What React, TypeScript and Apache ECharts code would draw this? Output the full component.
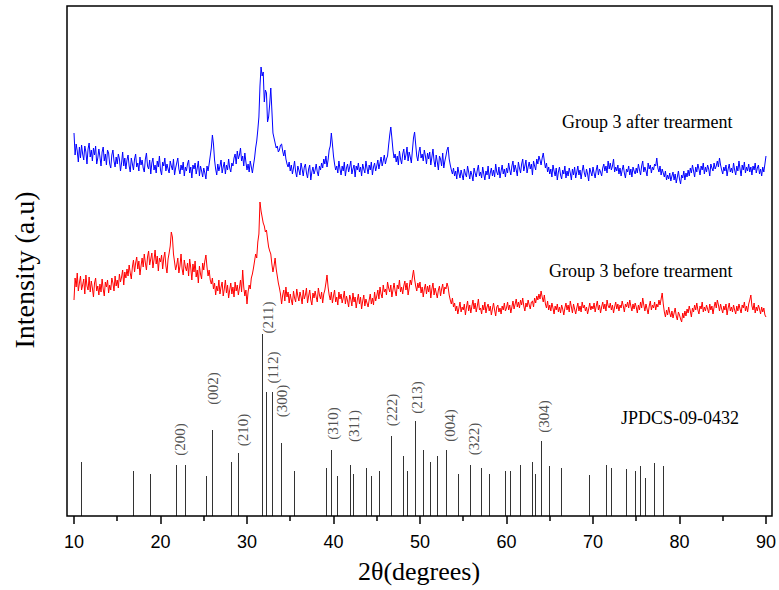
import React, { useEffect, useRef } from "react";
import * as echarts from "echarts";

// 2θ sampling of the measured patterns
const X_START = 10;
const X_STEP = 0.125;

// Group 3 after treatment (blue), intensity a.u. (offset stacked); one row per degree
const afterTreatment = [
  383, 361, 372, 365, 354, 369, 358, 371,
  362, 356, 370, 364, 352, 367, 373, 359,
  366, 355, 368, 361, 370, 352, 358, 367,
  359, 350, 364, 369, 355, 362, 351, 366,
  363, 352, 348, 361, 366, 355, 349, 359,
  352, 362, 357, 345, 353, 364, 350, 358,
  347, 356, 361, 350, 344, 358, 352, 346,
  357, 362, 349, 353, 345, 359, 351, 356,
  348, 344, 357, 363, 350, 347, 356, 342,
  353, 358, 346, 351, 343, 355, 349, 360,
  346, 341, 354, 350, 358, 345, 352, 347,
  343, 355, 350, 346, 357, 341, 348, 353,
  358, 347, 342, 351, 346, 354, 340, 349,
  345, 352, 356, 343, 349, 338, 351, 347,
  353, 342, 348, 355, 340, 350, 345, 339,
  348, 343, 337, 350, 345, 352, 360, 368,
  381, 372, 356, 347, 341, 352, 345, 350,
  356, 343, 349, 354, 342, 351, 346, 357,
  348, 344, 353, 350, 358, 362, 352, 365,
  357, 361, 368, 355, 360, 350, 363, 354,
  346, 352, 344, 355, 349, 343, 351, 358,
  368, 375, 386, 399, 430, 449, 440, 444,
  414, 426, 423, 394, 399, 412, 428, 406,
  383, 378, 373, 368, 370, 364, 366, 371,
  372, 365, 360, 366, 357, 352, 349, 354,
  345, 351, 342, 348, 355, 344, 339, 350,
  346, 341, 353, 347, 340, 349, 352, 343,
  338, 347, 351, 336, 344, 349, 342, 346,
  352, 344, 340, 350, 346, 353, 348, 357,
  352, 360, 349, 356, 366, 370, 383, 372,
  360, 352, 346, 350, 343, 355, 347, 341,
  350, 345, 354, 340, 348, 352, 344, 349,
  355, 342, 347, 351, 339, 350, 346, 353,
  344, 349, 340, 352, 347, 343, 355, 348,
  342, 351, 346, 354, 341, 349, 353, 345,
  350, 356, 347, 353, 359, 350, 355, 361,
  352, 357, 360, 371, 381, 389, 378, 366,
  358, 362, 354, 360, 351, 365, 357, 352,
  362, 367, 356, 361, 369, 355, 364, 359,
  353, 366, 378, 384, 372, 360, 355, 364,
  369, 358, 362, 355, 366, 360, 352, 363,
  357, 364, 351, 359, 367, 355, 349, 361,
  354, 346, 360, 357, 350, 363, 348, 355,
  360, 366, 369, 357, 351, 346, 342, 348,
  340, 345, 337, 349, 343, 338, 346, 341,
  336, 347, 342, 339, 350, 344, 337, 345,
  341, 335, 348, 343, 339, 346, 351, 340,
  344, 338, 349, 342, 336, 345, 341, 350,
  337, 343, 348, 340, 346, 339, 352, 344,
  341, 349, 338, 345, 351, 342, 347, 339,
  348, 343, 353, 346, 341, 350, 355, 344,
  351, 346, 340, 354, 348, 343, 352, 357,
  345, 350, 356, 343, 349, 354, 347, 352,
  341, 355, 350, 346, 357, 352, 360, 356,
  351, 358, 363, 355, 348, 353, 344, 349,
  342, 347, 339, 351, 345, 340, 348, 336,
  344, 349, 341, 337, 346, 342, 350, 338,
  345, 340, 348, 343, 336, 347, 341, 349,
  338, 344, 350, 341, 346, 337, 345, 351,
  343, 339, 347, 342, 335, 348, 344, 340,
  349, 343, 338, 346, 351, 341, 347, 344,
  340, 348, 352, 345, 350, 343, 355, 347,
  353, 346, 350, 357, 344, 349, 345, 351,
  342, 348, 340, 346, 351, 343, 338, 347,
  344, 350, 341, 347, 339, 349, 345, 342,
  348, 343, 352, 346, 341, 350, 355, 344,
  349, 345, 340, 353, 347, 351, 343, 349,
  346, 352, 350, 358, 348, 344, 350, 341,
  347, 343, 339, 345, 336, 341, 337, 343,
  335, 340, 344, 336, 342, 333, 339, 345,
  337, 332, 341, 338, 345, 336, 343, 339,
  346, 340, 348, 343, 351, 345, 339, 349,
  344, 352, 347, 341, 350, 346, 353, 342,
  349, 344, 351, 347, 340, 352, 348, 345,
  353, 347, 350, 355, 349, 358, 351, 346,
  342, 349, 345, 351, 340, 347, 352, 344,
  348, 343, 353, 346, 341, 350, 345, 355,
  347, 340, 351, 346, 354, 343, 349, 345,
  352, 344, 349, 341, 350, 346, 353, 343,
  348, 351, 342, 347, 340, 349, 344, 352,
  360,
];

// Group 3 before treatment (red); one row per degree
const beforeTreatment = [
  216, 238, 229, 243, 225, 233, 240, 226,
  231, 237, 222, 241, 230, 226, 239, 224,
  235, 228, 219, 233, 238, 225, 230, 221,
  232, 224, 237, 227, 220, 234, 229, 236,
  223, 231, 226, 238, 233, 225, 240, 230,
  236, 228, 242, 234, 239, 246, 231, 244,
  238, 247, 240, 251, 243, 237, 249, 256,
  244, 253, 259, 247, 255, 241, 250, 258,
  249, 262, 253, 246, 259, 265, 251, 257,
  263, 248, 256, 266, 252, 260, 245, 258,
  254, 261, 247, 258, 264, 250, 243, 257,
  263, 270, 284, 279, 262, 254, 246, 251,
  258, 243, 250, 262, 247, 241, 256, 249,
  245, 253, 240, 257, 248, 236, 252, 244,
  255, 239, 246, 233, 250, 242, 237, 253,
  246, 255, 261, 249, 240, 246, 236, 232,
  238, 227, 233, 221, 230, 225, 236, 222,
  229, 234, 220, 227, 236, 223, 231, 218,
  226, 233, 222, 229, 219, 234, 225, 231,
  221, 228, 236, 224, 246, 229, 220, 226,
  212, 224, 231, 227, 238, 242, 248, 255,
  262, 258, 274, 282, 314, 305, 299, 293,
  290, 284, 286, 277, 269, 265, 262, 252,
  244, 250, 258, 247, 240, 233, 228, 222,
  212, 221, 226, 215, 229, 219, 224, 213,
  222, 216, 211, 225, 218, 214, 227, 220,
  215, 224, 219, 212, 226, 217, 221, 228,
  213, 220, 226, 216, 211, 223, 218, 225,
  219, 214, 228, 221, 217, 224, 213, 222,
  226, 233, 241, 229, 221, 216, 224, 213,
  220, 226, 214, 219, 211, 224, 217, 222,
  213, 218, 225, 212, 220, 215, 209, 221,
  217, 210, 223, 214, 219, 208, 216, 222,
  212, 219, 207, 215, 221, 210, 217, 213,
  209, 216, 222, 212, 218, 211, 224, 215,
  220, 226, 217, 229, 222, 218, 231, 224,
  227, 221, 234, 228, 224, 231, 219, 226,
  233, 225, 220, 231, 227, 236, 224, 229,
  222, 230, 235, 226, 233, 221, 228, 236,
  231, 239, 246, 237, 230, 225, 233, 228,
  234, 223, 229, 219, 227, 232, 222, 230,
  224, 231, 218, 227, 233, 221, 228, 223,
  218, 226, 230, 220, 227, 232, 222, 229,
  227, 233, 229, 221, 216, 212, 218, 209,
  213, 205, 210, 202, 208, 214, 204, 209,
  206, 212, 201, 209, 215, 205, 211, 203,
  210, 216, 207, 213, 204, 210, 217, 206,
  208, 202, 211, 206, 214, 203, 209, 212,
  205, 210, 201, 207, 213, 206, 200, 209,
  211, 204, 208, 202, 210, 206, 213, 205,
  208, 214, 206, 211, 203, 209, 215, 207,
  212, 217, 209, 214, 208, 216, 211, 218,
  210, 205, 213, 209, 216, 211, 207, 214,
  215, 209, 218, 213, 220, 216, 222, 217,
  225, 219, 214, 221, 212, 208, 215, 206,
  211, 205, 213, 208, 202, 210, 206, 212,
  204, 209, 203, 211, 207, 201, 208, 213,
  206, 211, 204, 215, 209, 203, 212, 207,
  202, 208, 213, 205, 210, 204, 214, 208,
  211, 205, 209, 202, 207, 213, 206, 210,
  207, 213, 204, 210, 215, 206, 211, 203,
  209, 214, 207, 212, 205, 216, 210, 208,
  213, 206, 211, 203, 209, 214, 207, 212,
  205, 211, 208, 215, 210, 204, 212, 209,
  214, 208, 216, 210, 205, 212, 207, 213,
  209, 203, 211, 206, 214, 208, 218, 211,
  205, 212, 207, 202, 210, 215, 206, 211,
  208, 214, 206, 212, 209, 216, 211, 217,
  223, 212, 204, 199, 206, 201, 209, 203,
  199, 205, 198, 203, 208, 200, 196, 204,
  201, 197, 194, 203, 198, 205, 200, 207,
  203, 210, 205, 199, 208, 204, 211, 206,
  213, 206, 202, 210, 207, 214, 204, 209,
  205, 211, 207, 203, 212, 206, 210, 202,
  209, 214, 208, 216, 211, 205, 212, 207,
  203, 210, 206, 212, 201, 208, 213, 205,
  209, 204, 211, 206, 202, 210, 205, 212,
  207, 203, 211, 208, 214, 205, 210, 204,
  212, 216, 221, 210, 206, 213, 203, 209,
  205, 211, 207, 202, 209, 204, 208, 201,
  199,
];

// JCPDS 09-0432 reference lines
const stickPositions = [
  10.84, 16.85, 18.78, 21.78, 22.85, 25.3, 25.9, 28.1, 28.94, 31.7, 32.17, 32.86,
  33.98, 35.44, 39.18, 39.75, 40.4, 41.95, 42.25, 43.72, 44.3, 45.26, 46.6, 48.03,
  48.53, 49.38, 50.38, 51.19, 52.0, 53.04, 54.38, 55.77, 57.0, 57.96, 59.8, 60.35,
  61.54, 62.92, 63.35, 64.0, 64.88, 66.27, 69.58, 71.5, 72.1, 73.85, 74.85, 75.39,
  76.0, 77.05, 78.08,
];
const stickHeights = [
  54, 45, 42, 51, 51, 40, 86, 54, 63, 182, 124, 124,
  73, 45, 48, 66, 40, 51, 42, 48, 40, 45, 80, 60,
  45, 95, 66, 54, 60, 66, 42, 51, 48, 42, 45, 45,
  51, 54, 42, 75, 50, 48, 41, 51, 48, 47, 45, 50,
  38, 53, 50,
];

// Miller index annotations
const hklLabels = ["(200)", "(002)", "(210)", "(211)", "(112)", "(300)", "(310)", "(311)", "(222)", "(213)", "(004)", "(322)", "(304)"];
const hklX = [22.24, 26.09, 29.55, 32.46, 33.0, 34.08, 39.94, 42.33, 46.76, 49.68, 53.45, 56.3, 64.39];
const hklY = [76.5, 127.5, 86, 198.5, 148.5, 115, 92.5, 90, 106, 118.6, 90.6, 77, 99.4];

const SERIF = "'Liberation Serif', 'Times New Roman', serif";
const SANS = "'Liberation Sans', Arial, sans-serif";

export default function App() {
  const ref = useRef<HTMLDivElement>(null);

  useEffect(() => {
    if (!ref.current) return;
    const chart = echarts.init(ref.current, undefined, { renderer: "svg" });

    const toPairs = (arr: number[]) => arr.map((v, i) => [X_START + i * X_STEP, v]);

    chart.setOption({
      animation: false,
      backgroundColor: "#fff",
      grid: { left: 74, right: 13, top: 6, bottom: 74 },
      xAxis: {
        type: "value",
        min: 10,
        max: 90,
        interval: 10,
        axisLine: { show: false },
        axisTick: { show: true, inside: false, length: 8, lineStyle: { color: "#000", width: 1.5 } },
        minorTick: { show: true, splitNumber: 2, length: 5, lineStyle: { color: "#000", width: 1.5 } },
        axisLabel: { color: "#000", fontSize: 18, fontFamily: SANS, margin: 17 },
        splitLine: { show: false },
        minorSplitLine: { show: false },
      },
      yAxis: { type: "value", min: 0, max: 510, show: false },
      graphic: [
        {
          type: "rect",
          z: 100,
          silent: true,
          shape: { x: 67, y: 6, width: 705, height: 510 },
          style: { fill: "none", stroke: "#000", lineWidth: 1.5 },
        },
        {
          type: "text",
          x: 24,
          y: 270,
          rotation: Math.PI / 2,
          style: { text: "Intensity (a.u)", fontSize: 28, fontFamily: SERIF, fill: "#000", align: "center", verticalAlign: "middle" },
        },
        {
          type: "text",
          x: 419,
          y: 571,
          style: { text: "2θ(degrees)", fontSize: 26, fontFamily: SERIF, fill: "#000", align: "center", verticalAlign: "middle" },
        },
        {
          type: "text",
          x: 562,
          y: 122,
          style: { text: "Group 3 after trearment", fontSize: 18, fontFamily: SERIF, fill: "#000", align: "left", verticalAlign: "middle" },
        },
        {
          type: "text",
          x: 549,
          y: 271,
          style: { text: "Group 3 before trearment", fontSize: 18, fontFamily: SERIF, fill: "#000", align: "left", verticalAlign: "middle" },
        },
        {
          type: "text",
          x: 621,
          y: 418,
          style: { text: "JPDCS-09-0432", fontSize: 18, fontFamily: SERIF, fill: "#000", align: "left", verticalAlign: "middle" },
        },
      ],
      series: [
        {
          name: "Group 3 after trearment",
          type: "line",
          data: toPairs(afterTreatment),
          showSymbol: false,
          symbol: "none",
          lineStyle: { color: "#0000ff", width: 1 },
          itemStyle: { color: "#0000ff" },
          silent: true,
        },
        {
          name: "Group 3 before trearment",
          type: "line",
          data: toPairs(beforeTreatment),
          showSymbol: false,
          symbol: "none",
          lineStyle: { color: "#ff0000", width: 1 },
          itemStyle: { color: "#ff0000" },
          silent: true,
        },
        {
          name: "JPDCS-09-0432",
          type: "custom",
          silent: true,
          data: stickPositions.map((x, i) => [x, stickHeights[i]]),
          renderItem: (_params: any, api: any) => {
            const p0 = api.coord([api.value(0), 0]);
            const p1 = api.coord([api.value(0), api.value(1)]);
            const x = Math.round(p0[0]) + 0.5;
            return {
              type: "line",
              shape: { x1: x, y1: p0[1], x2: x, y2: p1[1] },
              style: { stroke: "#333", lineWidth: 1 },
            };
          },
        },
        {
          name: "hkl",
          type: "scatter",
          silent: true,
          symbolSize: 0,
          data: hklX.map((x, i) => ({ value: [x, hklY[i]], name: hklLabels[i] })),
          label: {
            show: true,
            position: "inside",
            rotate: 90,
            formatter: "{b}",
            fontSize: 15,
            fontFamily: SERIF,
            color: "#222",
          },
        },
      ],
    });

    return () => chart.dispose();
  }, []);

  return (
    <div
      ref={ref}
      style={{ position: "fixed", left: 0, top: 0, width: 779, height: 590, background: "#fff" }}
    />
  );
}
